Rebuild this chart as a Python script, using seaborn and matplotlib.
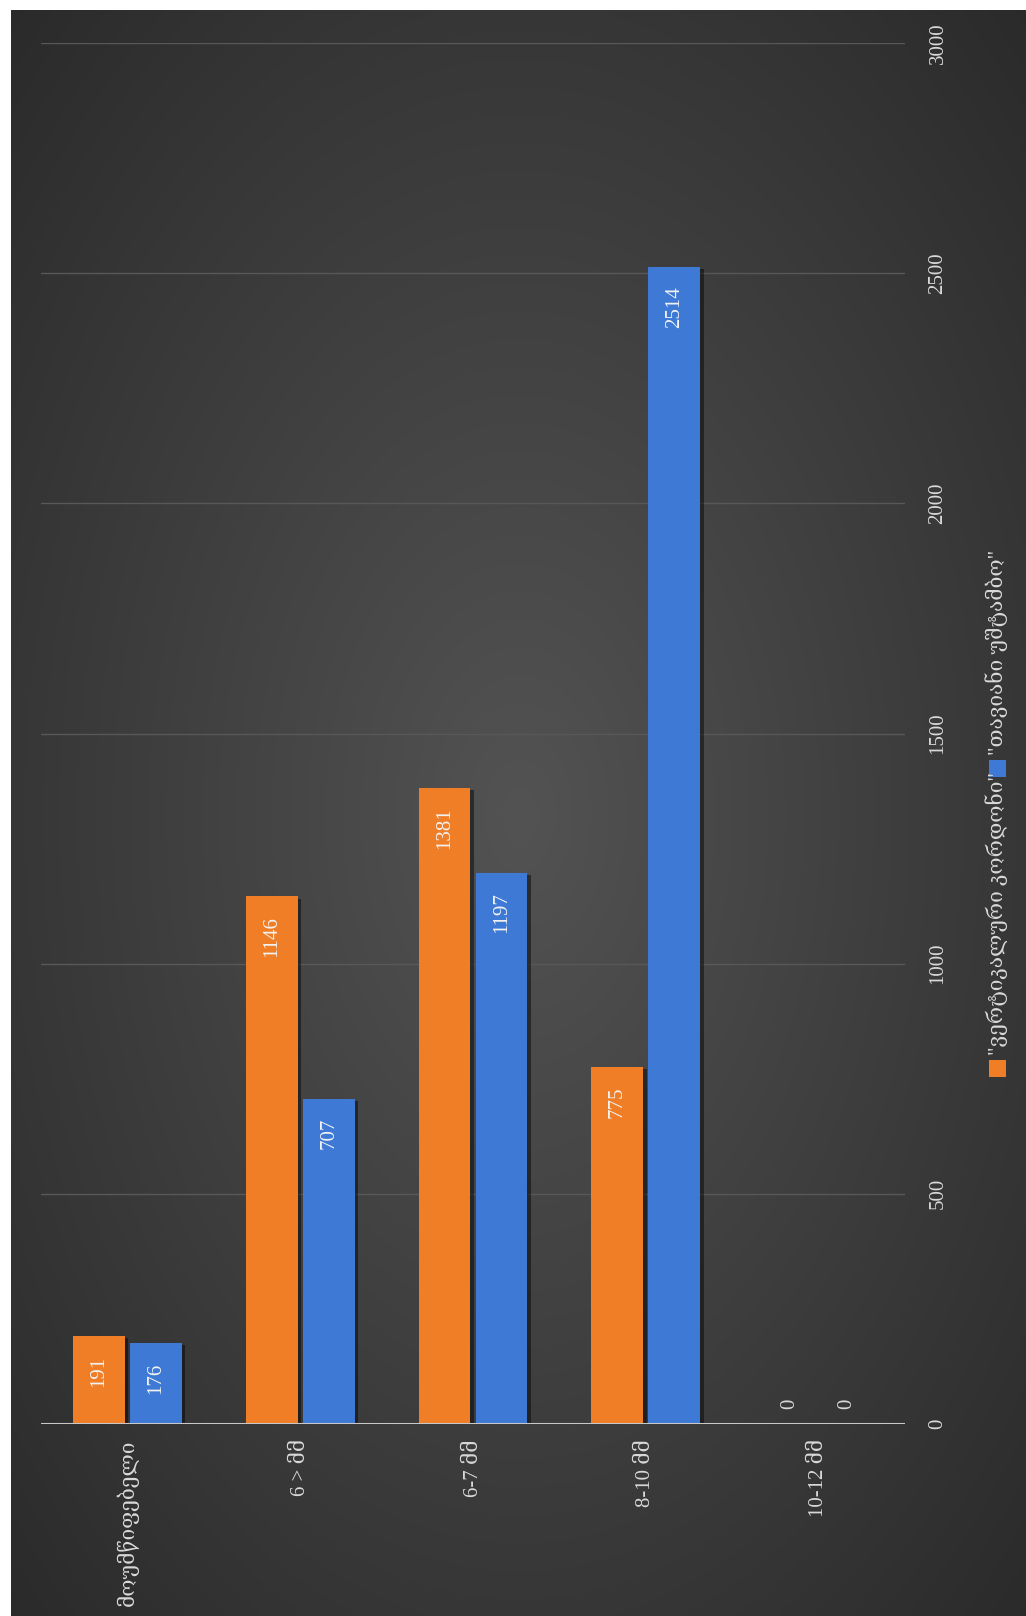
import numpy as np
import pandas as pd
import matplotlib
matplotlib.use("Agg")
import matplotlib.pyplot as plt
from matplotlib.patches import Rectangle
import matplotlib.patheffects as pe
import seaborn as sns

# ---- data ----
categories = ["მოუმწიფებელი", "6 > მმ", "6-7 მმ", "8-10 მმ", "10-12 მმ"]
series_names = ['"ვერტიკალური კორდონი"', '"თავიანი უშტამბო"']
orange_values = [191, 1146, 1381, 775, 0]
blue_values = [176, 707, 1197, 2514, 0]
y_ticks = [0, 500, 1000, 1500, 2000, 2500, 3000]

colors = ["#F07E26", "#3D79D5"]
text_col = "#D9D9D9"

sns.set_theme(style="white")
FONT = ["Liberation Serif", "DejaVu Serif", "DejaVu Sans"]
plt.rcParams["font.family"] = FONT

W, H = 1026, 1616
fig = plt.figure(figsize=(W / 100, H / 100), dpi=100, facecolor="white")

# background panel with a radial gradient
bg = fig.add_axes([11 / W, 0, 1 - 11 / W, 1 - 10 / H])
yy, xx = np.mgrid[0:400, 0:300]
cx, cy = 150, 200
r = np.sqrt(((xx - cx) / 300) ** 2 + ((yy - cy) / 400) ** 2)
r = np.clip(r / 0.75, 0, 1)
c_in, c_out = np.array([0x53, 0x53, 0x53]) / 255, np.array([0x28, 0x28, 0x28]) / 255
img = c_in[None, None, :] * (1 - r[..., None]) + c_out[None, None, :] * r[..., None]
bg.imshow(img, aspect="auto", extent=[0, 1, 0, 1], interpolation="bilinear")
bg.set_axis_off()

# main axes
left, right = 41 / W, 905 / W
bottom, top = 1 - 1424 / H, 1 - 43 / H
ax = fig.add_axes([left, bottom, right - left, top - bottom])
ax.set_facecolor("none")

df = pd.DataFrame({
    "category": categories * 2,
    "value": orange_values + blue_values,
    "series": [series_names[0]] * len(categories) + [series_names[1]] * len(categories),
})
sns.barplot(data=df, x="category", y="value", hue="series", order=categories,
            hue_order=series_names, palette=colors, width=0.66, gap=0.09,
            saturation=1, legend=False, ax=ax, zorder=3, edgecolor="none")

shadow = [pe.SimplePatchShadow(offset=(2.5, -1.5), shadow_rgbFace="black", alpha=0.45), pe.Normal()]
for cont in ax.containers:
    for bar in cont:
        bar.set_path_effects(shadow)

ax.set_ylim(0, 3000)
ax.set_xlim(-0.5, len(categories) - 0.5)
ax.set_yticks(y_ticks)
ax.yaxis.tick_right()
ax.grid(axis="y", color="#585858", linewidth=1.0, zorder=0)
ax.grid(axis="x", visible=False)
for s in ["top", "left", "right", "bottom"]:
    ax.spines[s].set_visible(False)
ax.axhline(0, color="#C8C8C8", linewidth=2.2, zorder=4)
ax.set_xlabel("")
ax.set_ylabel("")

ax.tick_params(axis="x", length=0, pad=11, colors=text_col, labelsize=15, labelrotation=90)
ax.tick_params(axis="y", length=0, pad=17, colors=text_col, labelsize=15)
for lab in ax.get_yticklabels():
    lab.set_rotation(90)
    lab.set_va("center")
    lab.set_ha("left")
for lab in ax.get_xticklabels():
    lab.set_va("top")
    lab.set_ha("center")

# data labels
for cont in ax.containers:
    for bar in cont:
        h = bar.get_height()
        xc = bar.get_x() + bar.get_width() / 2
        if h > 0:
            ax.annotate(f"{int(round(h))}", (xc, h), xytext=(0, -14), textcoords="offset points",
                        rotation=90, ha="center", va="top", color="#F2F2F2", fontsize=15, zorder=5)
        else:
            ax.annotate(f"{int(round(h))}", (xc, h), xytext=(0, 11), textcoords="offset points",
                        rotation=90, ha="center", va="bottom", color=text_col, fontsize=15, zorder=5)

# legend (rotated, drawn manually)
sq = 17
leg_x = 997
entries = [(1068, 1055), (768, 755)]  # (square centre y, text bottom y) in px from top
for (sqy, ty), name, col in zip(entries, series_names, colors):
    fig.patches.append(Rectangle(((leg_x - sq / 2) / W, 1 - (sqy + sq / 2) / H), sq / W, sq / H,
                                 transform=fig.transFigure, facecolor=col, edgecolor="none"))
    fig.text(leg_x / W, 1 - ty / H, name, rotation=90, ha="center", va="bottom",
             color=text_col, fontsize=15)

fig.savefig("out.png", dpi=100, facecolor=fig.get_facecolor())
